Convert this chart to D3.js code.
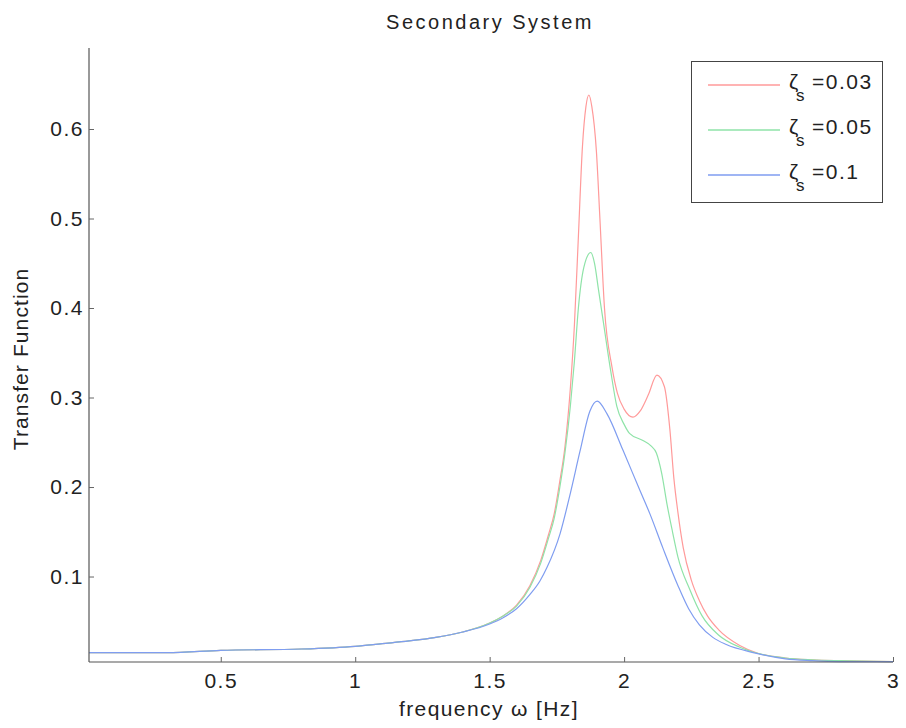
<!DOCTYPE html>
<html>
<head>
<meta charset="utf-8">
<script src="https://cdn.jsdelivr.net/npm/d3@7"></script>
<style>
  body { margin: 0; background: #fff; }
  svg { font-family: "Liberation Sans", Arial, sans-serif; }
</style>
</head>
<body>
<svg width="906" height="728"></svg>
<script>
// values: [frequency, transfer function]
const zeta003 = [[0.01,0.015],[0.3,0.015],[0.5,0.0175],[0.8,0.019],[1.0,0.022],[1.1,0.025],[1.2,0.028],[1.3,0.032],[1.4,0.038],[1.5,0.048],[1.55,0.056],[1.6,0.068],[1.65,0.09],[1.69,0.118],[1.72,0.148],[1.74,0.17],[1.76,0.205],[1.78,0.245],[1.8,0.31],[1.815,0.38],[1.83,0.48],[1.845,0.58],[1.858,0.625],[1.869,0.638],[1.88,0.625],[1.897,0.575],[1.91,0.5],[1.927,0.4],[1.955,0.334],[1.975,0.305],[2.0,0.287],[2.033,0.278],[2.06,0.285],[2.09,0.303],[2.122,0.325],[2.15,0.312],[2.17,0.265],[2.185,0.21],[2.2,0.172],[2.22,0.132],[2.25,0.096],[2.28,0.073],[2.31,0.056],[2.35,0.041],[2.43,0.023],[2.5,0.014],[2.6,0.009],[2.7,0.007],[2.8,0.006],[3.0,0.005]];
const zeta005 = [[0.01,0.015],[0.3,0.015],[0.5,0.0175],[0.8,0.019],[1.0,0.022],[1.1,0.025],[1.2,0.028],[1.3,0.032],[1.4,0.038],[1.5,0.048],[1.55,0.056],[1.6,0.067],[1.65,0.088],[1.69,0.115],[1.72,0.144],[1.74,0.165],[1.76,0.198],[1.78,0.238],[1.8,0.29],[1.815,0.34],[1.83,0.40],[1.85,0.445],[1.876,0.462],[1.89,0.45],[1.905,0.42],[1.925,0.38],[1.95,0.33],[1.973,0.29],[2.0,0.27],[2.02,0.26],[2.07,0.252],[2.1,0.246],[2.12,0.238],[2.14,0.215],[2.16,0.18],[2.18,0.15],[2.2,0.122],[2.245,0.085],[2.29,0.056],[2.35,0.035],[2.43,0.021],[2.5,0.014],[2.6,0.009],[2.7,0.007],[2.8,0.006],[3.0,0.005]];
const zeta01 = [[0.01,0.015],[0.3,0.015],[0.5,0.0175],[0.8,0.019],[1.0,0.022],[1.1,0.025],[1.2,0.028],[1.3,0.032],[1.4,0.038],[1.5,0.047],[1.55,0.054],[1.6,0.064],[1.65,0.08],[1.687,0.095],[1.713,0.11],[1.762,0.148],[1.8,0.193],[1.836,0.24],[1.873,0.285],[1.9,0.296],[1.936,0.282],[1.996,0.241],[2.059,0.196],[2.096,0.17],[2.144,0.132],[2.2,0.09],[2.24,0.064],[2.28,0.046],[2.33,0.032],[2.38,0.024],[2.48,0.015],[2.6,0.008],[2.7,0.006],[2.8,0.005],[3.0,0.005]];

const seriesNames = ["0.03", "0.05", "0.1"];
const seriesColors = ["#ff9a9a", "#8fe3a8", "#7f9df0"];
const xTicks = [0.5, 1, 1.5, 2, 2.5, 3];
const yTicks = [0.1, 0.2, 0.3, 0.4, 0.5, 0.6];

const svg = d3.select("svg");
const plotLeft = 89, plotRight = 893, plotTop = 48, plotBottom = 662;

const x = d3.scaleLinear().domain([0.01, 3]).range([plotLeft, plotRight]);
const y = d3.scaleLinear().domain([0.0045, 0.6905]).range([plotBottom, plotTop]);

// title and axis labels
svg.append("text")
  .attr("x", 490).attr("y", 29)
  .attr("text-anchor", "middle")
  .style("font-size", "20px")
  .style("letter-spacing", "2.5px")
  .attr("fill", "#222")
  .text("Secondary System");

svg.append("text")
  .attr("x", 489).attr("y", 716)
  .attr("text-anchor", "middle")
  .style("font-size", "21px")
  .style("letter-spacing", "1.4px")
  .attr("fill", "#222")
  .text("frequency \u03c9 [Hz]");

svg.append("text")
  .attr("transform", "translate(28," + 359 + ") rotate(-90)")
  .attr("text-anchor", "middle")
  .style("font-size", "21px")
  .style("letter-spacing", "1.1px")
  .attr("fill", "#222")
  .text("Transfer Function");

// curves
const line = d3.line()
  .x(d => x(d[0]))
  .y(d => y(d[1]))
  .curve(d3.curveMonotoneX);

const allSeries = [zeta003, zeta005, zeta01];
allSeries.forEach(function(s, i) {
  svg.append("path")
    .datum(s)
    .attr("fill", "none")
    .attr("stroke", seriesColors[i])
    .attr("stroke-width", 1.2)
    .attr("d", line);
});

// axes, matlab style with ticks pointing in
const xAxis = d3.axisBottom(x).tickValues(xTicks).tickSizeInner(-5).tickSizeOuter(0).tickPadding(11)
  .tickFormat(d3.format("~g"));
const gx = svg.append("g").attr("transform", "translate(0," + plotBottom + ")").call(xAxis);

const yAxis = d3.axisLeft(y).tickValues(yTicks).tickSizeInner(-5).tickSizeOuter(0).tickPadding(5)
  .tickFormat(d3.format("~g"));
const gy = svg.append("g").attr("transform", "translate(" + plotLeft + ",0)").call(yAxis);

[gx, gy].forEach(function(g) {
  g.select(".domain").attr("stroke", "#555").attr("stroke-width", 1.2);
  g.selectAll(".tick line").attr("stroke", "#666");
  g.selectAll(".tick text")
    .style("font-size", "21px")
    .style("letter-spacing", "1.5px")
    .attr("fill", "#222");
});
gx.select(".domain").attr("d", "M" + plotLeft + ",0H" + plotRight);
gy.select(".domain").attr("d", "M0," + plotBottom + "V" + plotTop);

// legend
const legend = svg.append("g");
legend.append("rect")
  .attr("x", 691.5).attr("y", 61.5)
  .attr("width", 191).attr("height", 141)
  .attr("fill", "#fff")
  .attr("stroke", "#444");

const legendY = [85, 130, 175];
seriesNames.forEach(function(name, i) {
  legend.append("line")
    .attr("x1", 708).attr("x2", 780)
    .attr("y1", legendY[i]).attr("y2", legendY[i])
    .attr("stroke", seriesColors[i])
    .attr("stroke-width", 1.5);
  const t = legend.append("text")
    .attr("y", legendY[i] + 4)
    .style("font-size", "21px")
    .attr("fill", "#222");
  t.append("tspan").attr("x", 789).text("\u03b6");
  t.append("tspan").attr("x", 796).attr("dy", 12).style("font-size", "17px").text("s");
  t.append("tspan").attr("x", 812).attr("dy", -12).style("letter-spacing", "1.5px").text("=" + name);
});
</script>
</body>
</html>
